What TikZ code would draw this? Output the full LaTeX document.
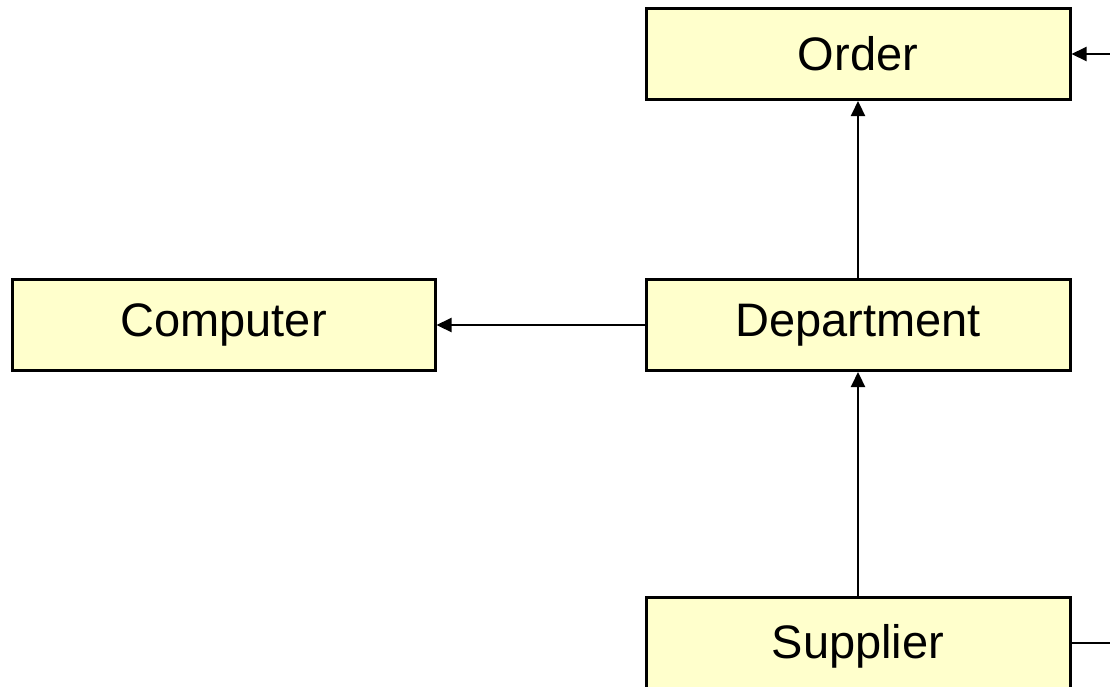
\documentclass[tikz,border=0pt]{standalone}
\usepackage{fontspec}
\setmainfont{Liberation Sans}
\usetikzlibrary{arrows.meta}
\definecolor{boxfill}{HTML}{FFFFCC}
\tikzset{
  entity/.style={draw=black, line width=3pt, fill=boxfill, minimum width=424pt,
    minimum height=91pt, inner sep=0pt, font=\fontsize{47}{56}\selectfont},
  link/.style={line width=2.2pt, draw=black},
  head/.style={-{Triangle[length=15pt,width=14pt]}}
}
\begin{document}
\begin{tikzpicture}[x=1pt, y=-1pt]
  \clip (0,0) rectangle (1110,686);
  \fill[white] (0,0) rectangle (1110,686);
  \node[entity] (order) at (858,54) {Order};
  \node[entity, minimum width=423pt] (computer) at (223.5,325) {Computer};
  \node[entity] (department) at (858,325) {Department};
  \node[entity, minimum height=98pt] (supplier) at (858,646) {Supplier};
  \coordinate (orderin) at (1110,54);
  \coordinate (supplierout) at (1110,643);
  \draw[link, head] (department) -- (order);
  \draw[link, head] (department) -- (computer);
  \draw[link, head] (supplier) -- (department);
  \draw[link, head] (orderin) -- (order);
  \draw[link] (supplierout) -- (supplierout -| supplier.east);
\end{tikzpicture}
\end{document}
